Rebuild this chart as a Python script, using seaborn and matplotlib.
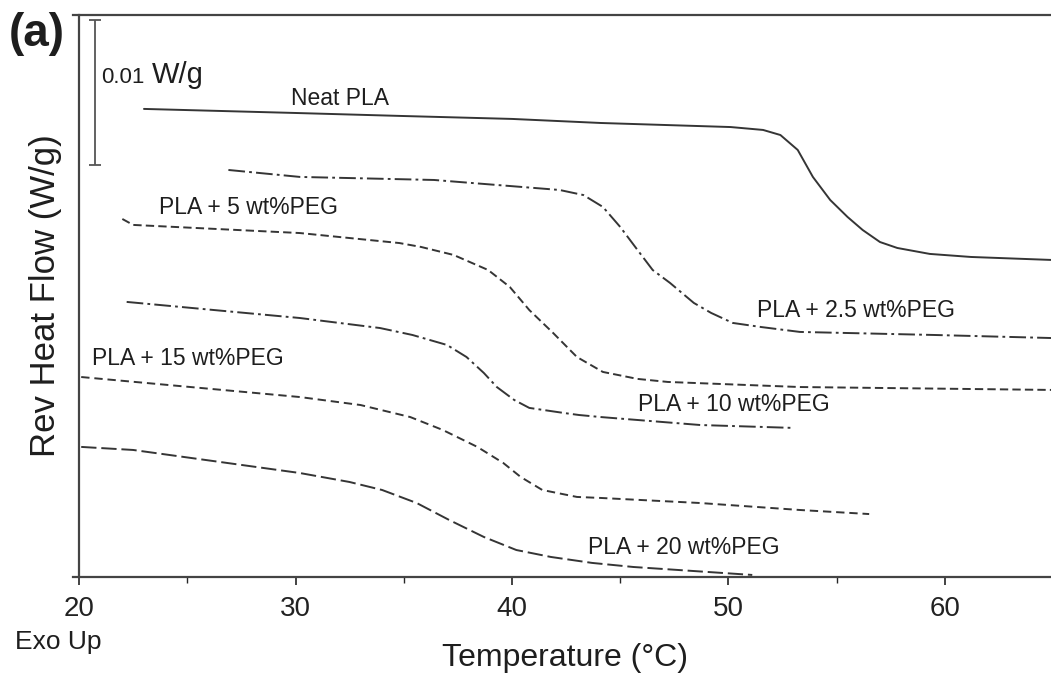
import numpy as np
import pandas as pd
import seaborn as sns
import matplotlib.pyplot as plt

# temperature (C) and rev heat flow (mW/g, arbitrary offset)
t_neat = [23.0, 30.0, 35.0, 40.0, 44.1, 50.1, 51.6, 52.4, 53.2, 53.9, 54.7, 55.5, 56.2, 57.0, 57.8, 59.3, 61.2, 65.0]
hf_neat = [32.28, 32.00, 31.79, 31.59, 31.31, 31.03, 30.83, 30.48, 29.45, 27.59, 26.00, 24.83, 23.93, 23.10, 22.69, 22.28, 22.07, 21.86]

t_25 = [26.9, 30.2, 36.4, 42.2, 43.3, 44.2, 45.0, 45.8, 46.5, 47.3, 48.4, 49.2, 50.2, 51.5, 53.3, 59.5, 64.9]
hf_25 = [28.07, 27.59, 27.38, 26.69, 26.34, 25.52, 24.14, 22.55, 21.17, 20.28, 18.90, 18.21, 17.52, 17.24, 16.90, 16.69, 16.48]

t_5 = [22.0, 22.5, 30.2, 34.8, 35.8, 37.3, 38.9, 39.9, 40.8, 41.9, 43.0, 44.2, 45.8, 47.2, 53.3, 64.9]
hf_5 = [24.69, 24.28, 23.72, 23.03, 22.76, 22.21, 21.17, 20.00, 18.41, 16.83, 15.17, 14.14, 13.66, 13.45, 13.10, 12.90]

t_10 = [22.2, 30.2, 33.9, 35.4, 37.0, 37.9, 38.7, 39.3, 40.1, 40.8, 42.4, 43.1, 44.1, 48.7, 53.0]
hf_10 = [18.97, 17.86, 17.17, 16.69, 16.00, 15.17, 14.07, 13.10, 12.21, 11.66, 11.31, 11.17, 11.03, 10.48, 10.28]

t_15 = [20.1, 30.2, 33.0, 35.3, 36.8, 38.4, 39.6, 40.4, 41.4, 43.0, 44.1, 48.7, 53.3, 56.5]
hf_15 = [13.79, 12.41, 11.86, 11.03, 10.14, 8.97, 7.86, 6.90, 6.00, 5.52, 5.45, 5.10, 4.62, 4.34]

t_20 = [20.1, 22.5, 30.2, 32.5, 34.0, 35.6, 37.1, 38.7, 40.2, 41.8, 43.7, 45.6, 51.1]
hf_20 = [8.97, 8.76, 7.17, 6.55, 6.00, 5.10, 3.93, 2.76, 1.86, 1.38, 0.97, 0.69, 0.14]

labels = ['Neat PLA', 'PLA + 2.5 wt%PEG', 'PLA + 5 wt%PEG', 'PLA + 10 wt%PEG', 'PLA + 15 wt%PEG', 'PLA + 20 wt%PEG']
x_ticks = [20, 30, 40, 50, 60]

sns.set_style('ticks')
plt.rcParams['font.family'] = ['Liberation Sans', 'DejaVu Sans']
plt.rcParams['lines.scale_dashes'] = False

fig = plt.figure(figsize=(10.51, 6.8), dpi=100)
ax = fig.add_axes([0.0752, 0.1515, 0.9248, 0.8265])

line_col = '#353535'
text_col = '#1e1e1e'
dash_dot = (0, (12, 3, 2, 3))
curves = [
    (t_neat, hf_neat, '-'),
    (t_25, hf_25, dash_dot),
    (t_5, hf_5, (0, (6, 3))),
    (t_10, hf_10, dash_dot),
    (t_15, hf_15, (0, (6, 3.5))),
    (t_20, hf_20, (0, (11, 3.5))),
]
for t, hf, ls in curves:
    sns.lineplot(x=t, y=hf, ax=ax, color=line_col, linewidth=1.4, linestyle=ls, sort=False)

# curve labels
label_pos = [(29.8, 33.0), (51.3, 18.4), (23.7, 25.5), (45.8, 11.9), (20.6, 15.1), (43.5, 2.0)]
for lab, (lx, ly) in zip(labels, label_pos):
    ax.text(lx, ly, lab, fontsize=16.5, color=text_col, ha='left', va='center')

# scale bar 0.01 W/g = 10 mW/g
ax.errorbar([20.74], [33.41], yerr=[[5.0], [5.0]], color='#555555', capsize=4, elinewidth=1.3, capthick=1.3)
ax.text(21.0, 34.05, '0.01', fontsize=16, color=text_col, ha='left', va='baseline')
ax.text(23.35, 34.05, 'W/g', fontsize=21, color=text_col, ha='left', va='baseline')

ax.set_xlim(20, 64.9)
ax.set_ylim(0, 38.76)
ax.set_xticks(x_ticks)
ax.set_xticks([25, 35, 45, 55], minor=True)
ax.set_yticks([])
ax.tick_params(axis='x', which='major', length=6, width=1.2, labelsize=20, pad=8, colors='#222222')
ax.tick_params(axis='x', which='minor', length=4, width=1.0)
for s in ['left', 'bottom', 'top']:
    ax.spines[s].set_linewidth(1.6)
    ax.spines[s].set_color('#444444')
ax.spines['bottom'].set_bounds(19.72, 64.9)
ax.spines['top'].set_bounds(19.72, 64.9)
ax.spines['right'].set_visible(False)

ax.set_xlabel('Temperature (°C)', fontsize=23, labelpad=15, color=text_col)
ax.set_ylabel('Rev Heat Flow (W/g)', fontsize=25, labelpad=12, color=text_col)

fig.text(0.014, 0.056, 'Exo Up', fontsize=19, ha='left', va='center', color=text_col)
fig.text(0.008, 0.95, '(a)', fontsize=33, fontweight='bold', ha='left', va='center', color=text_col)

fig.savefig('out.png', dpi=100)
